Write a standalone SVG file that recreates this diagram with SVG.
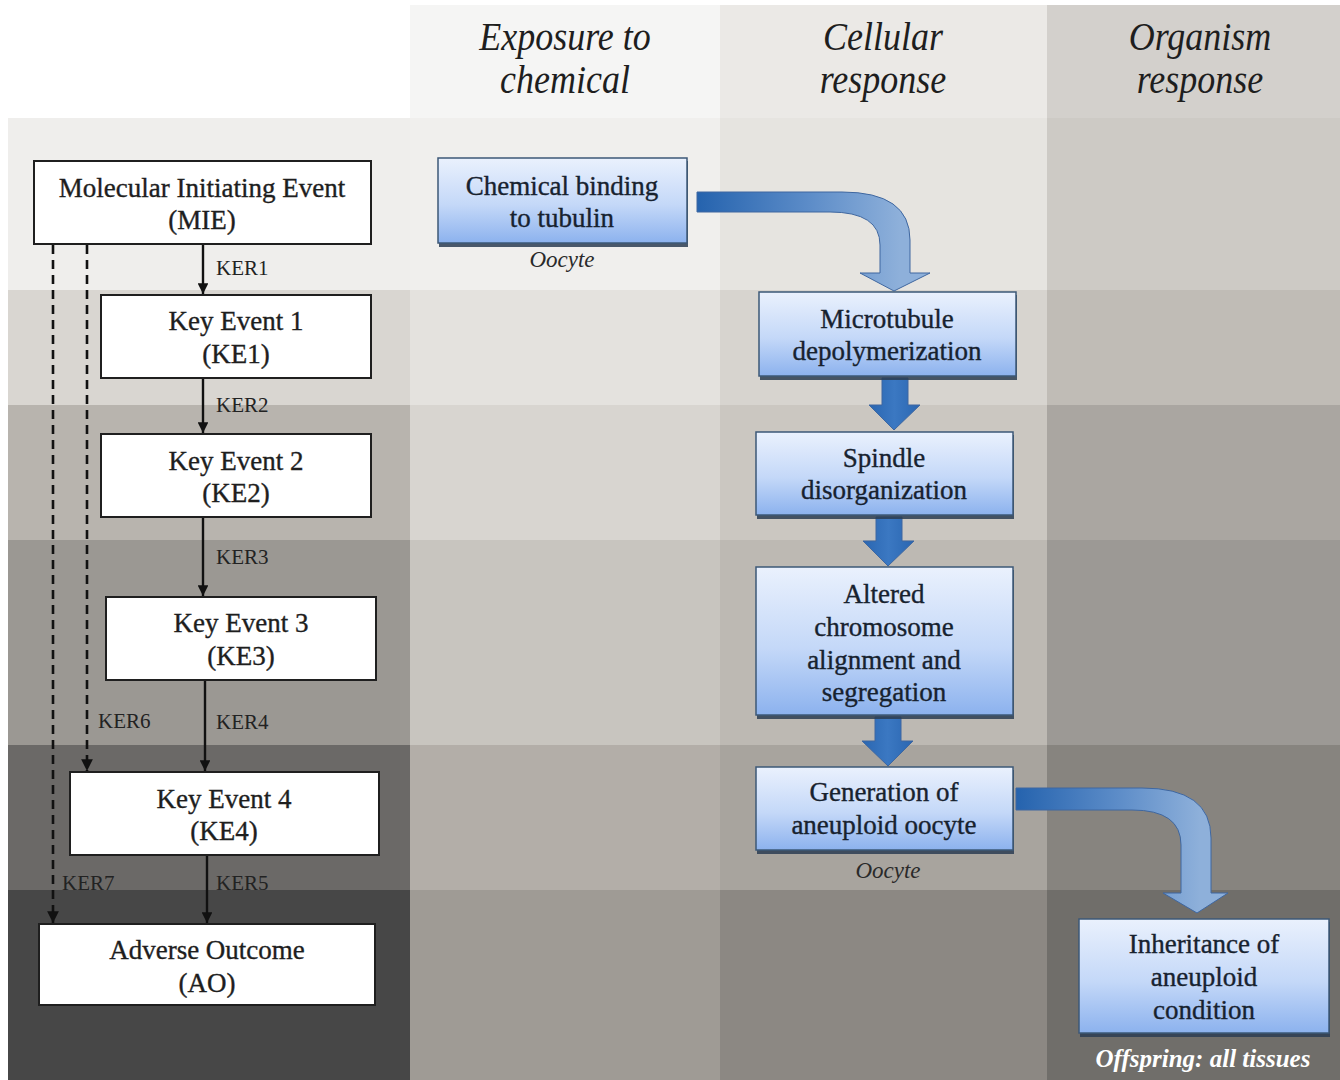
<svg xmlns="http://www.w3.org/2000/svg" width="1340" height="1080" viewBox="0 0 1340 1080">
  <style>
    .hdr { font-family: "Liberation Serif", "Times New Roman", serif; font-style: italic; font-size: 40px; fill: #1e1e1e; text-anchor: middle; }
    .ev { font-family: "Liberation Serif", "Times New Roman", serif; font-size: 27px; fill: #1e1e1e; stroke: #1e1e1e; stroke-width: 0.35; text-anchor: middle; }
    .ker { font-family: "Liberation Serif", "Times New Roman", serif; font-size: 21px; fill: #222; }
    .bt { font-family: "Liberation Serif", "Times New Roman", serif; font-size: 27px; fill: #17222f; stroke: #17222f; stroke-width: 0.35; text-anchor: middle; }
    .cap { font-family: "Liberation Serif", "Times New Roman", serif; font-style: italic; font-size: 23px; fill: #2a2a2a; text-anchor: middle; }
    .cap-w { font-family: "Liberation Serif", "Times New Roman", serif; font-style: italic; font-weight: bold; font-size: 25px; fill: #ffffff; text-anchor: middle; }
    .ebox { fill: #ffffff; stroke: #1f1f1f; stroke-width: 2; }
    .bbox { fill: url(#boxGrad); stroke: #3d5877; stroke-width: 1.5; }
    .bshadow { fill: #2c3d52; opacity: 0.85; }
    .solid { stroke: #111; stroke-width: 2.4; fill: none; marker-end: url(#head); }
    .dash { stroke: #111; stroke-width: 2.6; fill: none; stroke-dasharray: 9 6; marker-end: url(#head); }
    .barrow { stroke: #3f67a0; stroke-width: 1; }
  </style>
  <defs>
    <linearGradient id="boxGrad" x1="0" y1="0" x2="0" y2="1">
      <stop offset="0" stop-color="#eaf1fd"/>
      <stop offset="0.55" stop-color="#c4d8f8"/>
      <stop offset="1" stop-color="#8cb2ee"/>
    </linearGradient>
    <linearGradient id="downGrad" x1="0" y1="0" x2="1" y2="0">
      <stop offset="0" stop-color="#2a66b1"/>
      <stop offset="0.5" stop-color="#3b78c2"/>
      <stop offset="1" stop-color="#2a66b1"/>
    </linearGradient>
    <linearGradient id="bendGrad1" gradientUnits="userSpaceOnUse" x1="697" y1="0" x2="900" y2="0">
      <stop offset="0" stop-color="#2563ae"/>
      <stop offset="0.55" stop-color="#5c8cc8"/>
      <stop offset="1" stop-color="#8eb0da"/>
    </linearGradient>
    <linearGradient id="bendGrad2" gradientUnits="userSpaceOnUse" x1="1016" y1="0" x2="1200" y2="0">
      <stop offset="0" stop-color="#2563ae"/>
      <stop offset="0.55" stop-color="#5c8cc8"/>
      <stop offset="1" stop-color="#8eb0da"/>
    </linearGradient>
    <marker id="head" viewBox="0 0 10 10" refX="10" refY="5" markerWidth="4.5" markerHeight="4.5" orient="auto" markerUnits="strokeWidth">
      <path d="M0,0 L10,5 L0,10 Z" fill="#111"/>
    </marker>
  </defs>

  <!-- background grid: header band and six rows across four columns -->
  <g id="background">
    <rect x="0" y="0" width="1340" height="1080" fill="#ffffff"/>
    <rect x="410" y="5" width="310" height="113" fill="#f5f5f4"/>
    <rect x="720" y="5" width="327" height="113" fill="#ebe9e6"/>
    <rect x="1047" y="5" width="293" height="113" fill="#d3d0cc"/>

    <rect x="8" y="118" width="402" height="172" fill="#efeeec"/>
    <rect x="410" y="118" width="310" height="172" fill="#f0efed"/>
    <rect x="720" y="118" width="327" height="172" fill="#e6e4e0"/>
    <rect x="1047" y="118" width="293" height="172" fill="#cdcac5"/>

    <rect x="8" y="290" width="402" height="115" fill="#d9d6d1"/>
    <rect x="410" y="290" width="310" height="115" fill="#e4e2de"/>
    <rect x="720" y="290" width="327" height="115" fill="#d7d4cf"/>
    <rect x="1047" y="290" width="293" height="115" fill="#c0bcb6"/>

    <rect x="8" y="405" width="402" height="135" fill="#b8b4ae"/>
    <rect x="410" y="405" width="310" height="135" fill="#d8d5d0"/>
    <rect x="720" y="405" width="327" height="135" fill="#cbc7c1"/>
    <rect x="1047" y="405" width="293" height="135" fill="#aaa6a1"/>

    <rect x="8" y="540" width="402" height="205" fill="#9b9893"/>
    <rect x="410" y="540" width="310" height="205" fill="#c8c5bf"/>
    <rect x="720" y="540" width="327" height="205" fill="#bdb9b3"/>
    <rect x="1047" y="540" width="293" height="205" fill="#9c9995"/>

    <rect x="8" y="745" width="402" height="145" fill="#6b6967"/>
    <rect x="410" y="745" width="310" height="145" fill="#b3aea8"/>
    <rect x="720" y="745" width="327" height="145" fill="#a8a49e"/>
    <rect x="1047" y="745" width="293" height="145" fill="#87847f"/>

    <rect x="8" y="890" width="402" height="190" fill="#474747"/>
    <rect x="410" y="890" width="310" height="190" fill="#9f9b95"/>
    <rect x="720" y="890" width="327" height="190" fill="#8c8883"/>
    <rect x="1047" y="890" width="293" height="190" fill="#706e6a"/>
  </g>

  <!-- column headers (narrow italic) -->
  <g id="headers">
    <text class="hdr" transform="translate(565,50) scale(0.9,1)">Exposure to</text>
    <text class="hdr" transform="translate(565,93) scale(0.9,1)">chemical</text>
    <text class="hdr" transform="translate(883,50) scale(0.9,1)">Cellular</text>
    <text class="hdr" transform="translate(883,93) scale(0.9,1)">response</text>
    <text class="hdr" transform="translate(1200,50) scale(0.9,1)">Organism</text>
    <text class="hdr" transform="translate(1200,93) scale(0.9,1)">response</text>
  </g>

  <!-- key event relationships of the generic pathway -->
  <g id="connectors">
    <line class="solid" x1="203" y1="245" x2="203" y2="294"/>
    <line class="solid" x1="203" y1="379" x2="203" y2="433"/>
    <line class="solid" x1="203" y1="518" x2="203" y2="596"/>
    <line class="solid" x1="205" y1="681" x2="205" y2="771"/>
    <line class="solid" x1="207" y1="856" x2="207" y2="923"/>
    <line class="dash" x1="87" y1="245" x2="87" y2="771"/>
    <line class="dash" x1="53" y1="245" x2="53" y2="923"/>
    <text class="ker" x="216" y="275">KER1</text>
    <text class="ker" x="216" y="412">KER2</text>
    <text class="ker" x="216" y="564">KER3</text>
    <text class="ker" x="216" y="729">KER4</text>
    <text class="ker" x="216" y="890">KER5</text>
    <text class="ker" x="98" y="728">KER6</text>
    <text class="ker" x="62" y="890">KER7</text>

    <!-- block arrows of the oocyte pathway -->
    <path class="barrow" fill="url(#bendGrad1)" d="M697,192 L842,192 Q910,192 910,240 L910,273 L930,273 L894,291 L860,273 L880,273 L880,245 Q880,212 830,212 L697,212 Z"/>
    <path class="barrow" fill="url(#downGrad)" d="M882,378 L908,378 L908,405 L920,405 L894,430 L869,405 L882,405 Z"/>
    <path class="barrow" fill="url(#downGrad)" d="M876,517 L902,517 L902,541 L914,541 L888,566 L863,541 L876,541 Z"/>
    <path class="barrow" fill="url(#downGrad)" d="M875,717 L901,717 L901,741 L913,741 L888,766 L862,741 L875,741 Z"/>
    <path class="barrow" fill="url(#bendGrad2)" d="M1016,788 L1142,788 Q1211,788 1211,838 L1211,893 L1228,893 L1197,913 L1163,893 L1181,893 L1181,845 Q1181,810 1132,810 L1016,810 Z"/>
  </g>

  <!-- generic adverse outcome pathway events -->
  <g id="mie">
    <rect class="ebox" x="34" y="161" width="337" height="83"/>
    <text class="ev" x="202" y="197">Molecular Initiating Event</text>
    <text class="ev" x="202" y="229">(MIE)</text>
  </g>
  <g id="ke1">
    <rect class="ebox" x="101" y="295" width="270" height="83"/>
    <text class="ev" x="236" y="330">Key Event 1</text>
    <text class="ev" x="236" y="363">(KE1)</text>
  </g>
  <g id="ke2">
    <rect class="ebox" x="101" y="434" width="270" height="83"/>
    <text class="ev" x="236" y="470">Key Event 2</text>
    <text class="ev" x="236" y="502">(KE2)</text>
  </g>
  <g id="ke3">
    <rect class="ebox" x="106" y="597" width="270" height="83"/>
    <text class="ev" x="241" y="632">Key Event 3</text>
    <text class="ev" x="241" y="665">(KE3)</text>
  </g>
  <g id="ke4">
    <rect class="ebox" x="70" y="772" width="309" height="83"/>
    <text class="ev" x="224" y="808">Key Event 4</text>
    <text class="ev" x="224" y="840">(KE4)</text>
  </g>
  <g id="ao">
    <rect class="ebox" x="39" y="924" width="336" height="81"/>
    <text class="ev" x="207" y="959">Adverse Outcome</text>
    <text class="ev" x="207" y="992">(AO)</text>
  </g>

  <!-- oocyte-specific events -->
  <g id="tubulin-binding">
    <rect class="bshadow" x="439" y="161" width="249" height="86"/>
    <rect class="bbox" x="438" y="158" width="249" height="85"/>
    <text class="bt" x="562" y="195">Chemical binding</text>
    <text class="bt" x="562" y="227">to tubulin</text>
    <text class="cap" x="562" y="267">Oocyte</text>
  </g>
  <g id="depolymerization">
    <rect class="bshadow" x="760" y="295" width="257" height="85"/>
    <rect class="bbox" x="759" y="292" width="257" height="84"/>
    <text class="bt" x="887" y="328">Microtubule</text>
    <text class="bt" x="887" y="360">depolymerization</text>
  </g>
  <g id="spindle">
    <rect class="bshadow" x="757" y="435" width="257" height="84"/>
    <rect class="bbox" x="756" y="432" width="257" height="83"/>
    <text class="bt" x="884" y="467">Spindle</text>
    <text class="bt" x="884" y="499">disorganization</text>
  </g>
  <g id="chromosome-alignment">
    <rect class="bshadow" x="757" y="570" width="257" height="149"/>
    <rect class="bbox" x="756" y="567" width="257" height="148"/>
    <text class="bt" x="884" y="603">Altered</text>
    <text class="bt" x="884" y="636">chromosome</text>
    <text class="bt" x="884" y="669">alignment and</text>
    <text class="bt" x="884" y="701">segregation</text>
  </g>
  <g id="aneuploid-oocyte">
    <rect class="bshadow" x="757" y="770" width="257" height="84"/>
    <rect class="bbox" x="756" y="767" width="257" height="83"/>
    <text class="bt" x="884" y="801">Generation of</text>
    <text class="bt" x="884" y="834">aneuploid oocyte</text>
    <text class="cap" x="888" y="878">Oocyte</text>
  </g>
  <g id="inheritance">
    <rect class="bshadow" x="1080" y="922" width="250" height="115"/>
    <rect class="bbox" x="1079" y="919" width="250" height="114"/>
    <text class="bt" x="1204" y="953">Inheritance of</text>
    <text class="bt" x="1204" y="986">aneuploid</text>
    <text class="bt" x="1204" y="1019">condition</text>
    <text class="cap-w" x="1203" y="1067">Offspring: all tissues</text>
  </g>
</svg>
